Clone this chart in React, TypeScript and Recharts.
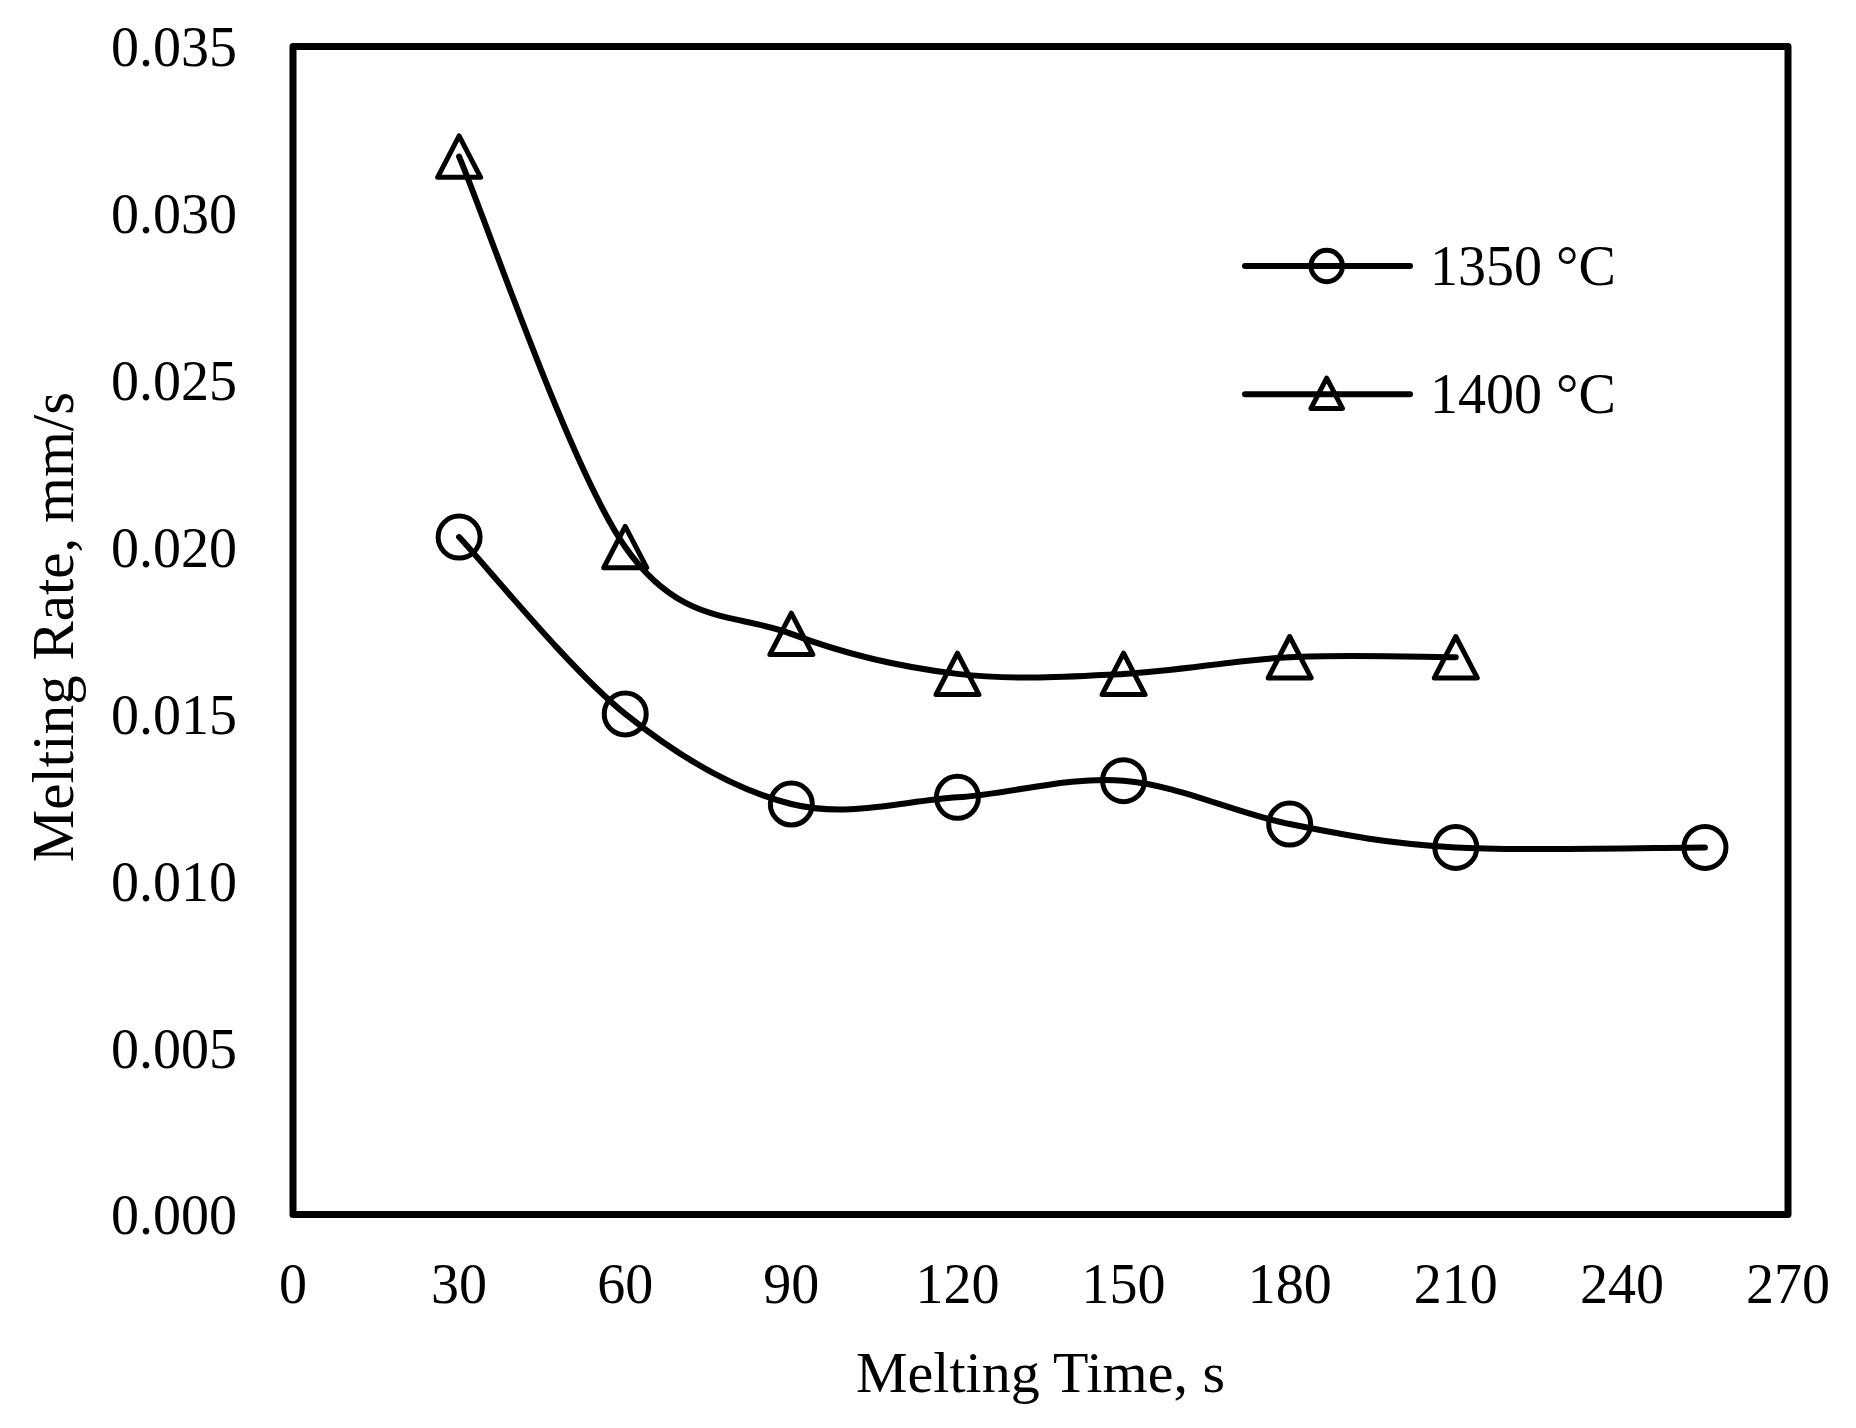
import React from 'react';
import { LineChart, Line, XAxis, YAxis, ReferenceArea, Legend, Label } from 'recharts';

// ---- data ----
const times1350 = [30, 60, 90, 120, 150, 180, 210, 255];
const rates1350 = [0.0203, 0.015, 0.0123, 0.0125, 0.013, 0.0117, 0.011, 0.011];
const times1400 = [30, 60, 90, 120, 150, 180, 210];
const rates1400 = [0.0317, 0.02, 0.0174, 0.0162, 0.0162, 0.0167, 0.0167];
const seriesNames = ['1350 °C', '1400 °C'];
const xTicks = [0, 30, 60, 90, 120, 150, 180, 210, 240, 270];
const yTicks = [0, 0.005, 0.01, 0.015, 0.02, 0.025, 0.03, 0.035];
const xTitle = 'Melting Time, s';
const yTitle = 'Melting Rate, mm/s';

const data1350 = times1350.map((t, i) => ({ t, v: rates1350[i] }));
const data1400 = times1400.map((t, i) => ({ t, v: rates1400[i] }));

const FONT = '"Liberation Serif", "Times New Roman", serif';

// Excel-like smoothed line (Catmull-Rom style bezier)
function excelCurve(context: any) {
  let pts: number[][] = [];
  return {
    areaStart() {},
    areaEnd() {},
    lineStart() {
      pts = [];
    },
    point(x: number, y: number) {
      pts.push([+x, +y]);
    },
    lineEnd() {
      const n = pts.length;
      if (!n) return;
      context.moveTo(pts[0][0], pts[0][1]);
      if (n === 1) return;
      for (let i = 0; i < n - 1; i++) {
        const p0 = pts[i - 1] || pts[i];
        const p1 = pts[i];
        const p2 = pts[i + 1];
        const p3 = pts[i + 2] || pts[i + 1];
        const c1x = p1[0] + (p2[0] - p0[0]) / 6;
        const c1y = p1[1] + (p2[1] - p0[1]) / 6;
        const c2x = p2[0] - (p3[0] - p1[0]) / 6;
        const c2y = p2[1] - (p3[1] - p1[1]) / 6;
        context.bezierCurveTo(c1x, c1y, c2x, c2y, p2[0], p2[1]);
      }
    },
  };
}

const MARKER_STROKE = 5;

const renderCircleDot = (props: any) => {
  const { cx, cy, index } = props;
  if (cx == null || cy == null) return <g key={`c${index}`} />;
  return <circle key={`c${index}`} cx={cx} cy={cy} r={21} fill="none" stroke="#000" strokeWidth={MARKER_STROKE} />;
};

const trianglePath = (cx: number, cy: number, hw: number, hh: number) =>
  `M${cx},${cy - hh}L${cx + hw},${cy + hh}L${cx - hw},${cy + hh}Z`;

const renderTriangleDot = (props: any) => {
  const { cx, cy, index } = props;
  if (cx == null || cy == null) return <g key={`t${index}`} />;
  return (
    <path
      key={`t${index}`}
      d={trianglePath(cx, cy, 21.5, 20.7)}
      fill="none"
      stroke="#000"
      strokeWidth={MARKER_STROKE}
      strokeLinejoin="round"
    />
  );
};

const renderLegend = (props: any) => {
  const payload = props.payload || [];
  return (
    <svg width={420} height={220} style={{ display: 'block' }}>
      {payload.map((item: any, i: number) => {
        const y = 46 + i * 128.3;
        return (
          <g key={`lg${i}`}>
            <line x1={15} x2={180} y1={y} y2={y} stroke="#000" strokeWidth={6} strokeLinecap="round" />
            {i === 0 ? (
              <circle cx={96.7} cy={y} r={15.7} fill="none" stroke="#000" strokeWidth={MARKER_STROKE} />
            ) : (
              <path d={trianglePath(96.7, y - 1, 15.75, 15.1)} fill="none" stroke="#000" strokeWidth={MARKER_STROKE} strokeLinejoin="round" />
            )}
            <text x={200} y={y + 19} fontFamily={FONT} fontSize={56} fill="#000">
              {item.value}
            </text>
          </g>
        );
      })}
    </svg>
  );
};

const renderYTitle = () => {
  const cx = 73;
  const cy = 627;
  return (
    <text
      x={cx}
      y={cy}
      transform={`rotate(-90 ${cx} ${cy})`}
      textAnchor="middle"
      fontFamily={FONT}
      fontSize={59}
      fill="#000"
    >
      {yTitle}
    </text>
  );
};

export default function App() {
  return (
    <div style={{ position: 'absolute', left: 0, top: 0, width: 1856, height: 1428, background: '#fff' }}>
      <LineChart width={1856} height={1428} margin={{ top: 46.5, right: 68, bottom: 0, left: 0 }}>
        <XAxis
          type="number"
          dataKey="t"
          domain={[0, 270]}
          ticks={xTicks}
          allowDataOverflow
          axisLine={false}
          tickLine={false}
          tickSize={0}
          tickMargin={48.5}
          height={213.5}
          tick={{ fill: '#000', fontSize: 56, fontFamily: FONT }}
        >
          <Label
            value={xTitle}
            position="insideBottom"
            offset={36}
            fill="#000"
            fontSize={58}
            fontFamily={FONT}
          />
        </XAxis>
        <YAxis
          type="number"
          domain={[0, 0.035]}
          ticks={yTicks}
          allowDataOverflow
          axisLine={false}
          tickLine={false}
          tickSize={0}
          tickMargin={56}
          width={293}
          tickFormatter={(v: number) => v.toFixed(3)}
          tick={{ fill: '#000', fontSize: 56, fontFamily: FONT }}
        >
          <Label content={renderYTitle} />
        </YAxis>
        <ReferenceArea
          x1={0}
          x2={270}
          y1={0}
          y2={0.035}
          fill="none"
          fillOpacity={0}
          stroke="#000"
          strokeWidth={7}
          strokeLinejoin="round"
          ifOverflow="visible"
        />
        <Line
          data={data1350}
          dataKey="v"
          name={seriesNames[0]}
          type={excelCurve as any}
          stroke="#000"
          strokeWidth={6}
          strokeLinecap="round"
          dot={renderCircleDot}
          activeDot={false}
          isAnimationActive={false}
        />
        <Line
          data={data1400}
          dataKey="v"
          name={seriesNames[1]}
          type={excelCurve as any}
          stroke="#000"
          strokeWidth={6}
          strokeLinecap="round"
          dot={renderTriangleDot}
          activeDot={false}
          isAnimationActive={false}
        />
        <Legend
          layout="vertical"
          align="center"
          verticalAlign="middle"
          content={renderLegend}
          wrapperStyle={{ position: 'absolute', left: 1230, top: 220, width: 420, height: 220 }}
        />
      </LineChart>
    </div>
  );
}
